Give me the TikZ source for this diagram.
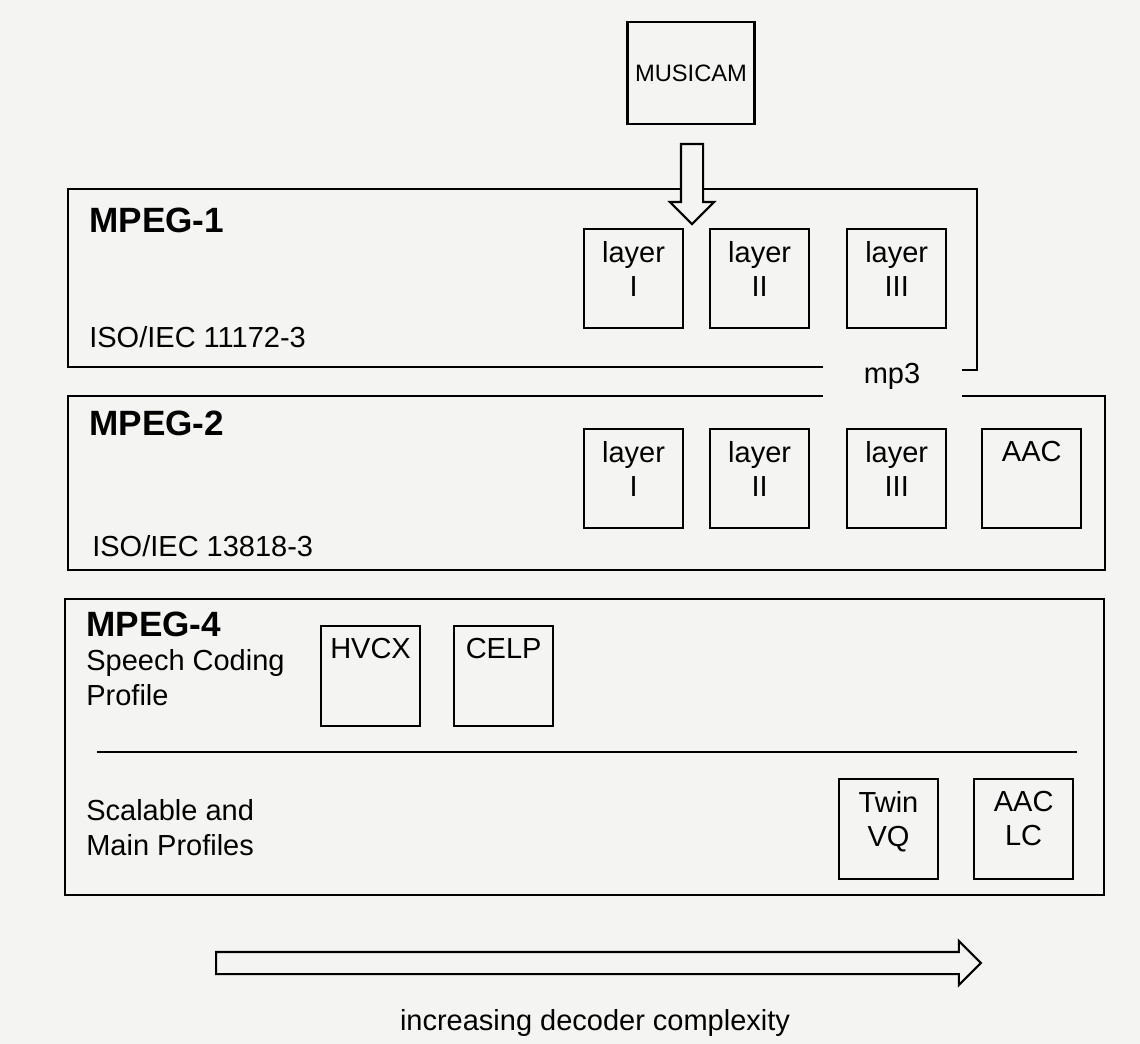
\documentclass[tikz,border=0pt]{standalone}
\usepackage{fontspec}
\setmainfont{Liberation Sans}
\usetikzlibrary{positioning,shapes.arrows}
\definecolor{paper}{HTML}{F4F4F2}
\newcommand\regsize{\fontsize{16.5}{19.5}\selectfont}
\newcommand\headsize{\fontsize{20}{24}\selectfont\bfseries}

\begin{document}
\begin{tikzpicture}[
  x=0.02cm, y=-0.02cm,
  frame/.style={line width=1.3pt},
  cellcap/.style={anchor=north, align=center, inner sep=0pt, yshift=-0.26cm, font=\regsize},
  cell/.style={draw, line width=1.2pt, minimum width=1.98cm, minimum height=1.98cm,
    inner sep=0pt, label={[cellcap]north:#1}},
  origin/.style={draw, line width=1.2pt, minimum width=2.54cm, minimum height=2.04cm,
    font=\fontsize{13.5}{16}\selectfont},
  tag/.style={anchor=base west, inner sep=0pt, align=left, font=\regsize},
  head/.style={tag, font=\headsize},
  hollow/.style={single arrow, draw, line width=1.2pt, fill=paper, inner xsep=0pt,
    inner ysep=0.2cm, single arrow head extend=0.22cm, single arrow tip angle=90}
]
\path[fill=paper, use as bounding box] (0,0) rectangle (1140,1044);

\draw[frame] (823,367) -- (68,367) -- (68,189) -- (977,189) -- (977,370) -- (962,370);
\draw[frame] (823,396) -- (68,396) -- (68,570) -- (1105,570) -- (1105,396) -- (962,396);
\draw[frame] (65,599) rectangle (1104,895);
\draw[frame] (97,752) -- (1077,752);

\node[origin] (musicam) at (691,73) {MUSICAM};
\node[hollow, rotate=-90, minimum height=1.6cm, anchor=tail] (feed) at (692,143) {};

\node[head] (mpeg1) at (89,233) {MPEG-1};
\node[tag] (iso1) at (89,348) {ISO/IEC 11172-3};
\node[cell={layer\\I}, anchor=north west] (m1a) at (583,228) {};
\node[cell={layer\\II}, right=0.5cm of m1a] (m1b) {};
\node[cell={layer\\III}, right=0.72cm of m1b] (m1c) {};

\node[font=\regsize, inner sep=0pt] (mp3) at (892,376) {mp3};

\node[head] (mpeg2) at (89,436) {MPEG-2};
\node[tag] (iso2) at (92,556) {ISO/IEC 13818-3};
\node[cell={layer\\I}, anchor=north west] (m2a) at (583,428) {};
\node[cell={layer\\II}, right=0.5cm of m2a] (m2b) {};
\node[cell={layer\\III}, right=0.72cm of m2b] (m2c) {};
\node[cell={AAC}, right=0.68cm of m2c] (m2d) {};

\node[head] (mpeg4) at (86,636) {MPEG-4};
\node[tag] (speech) at (86,705) {Speech Coding\\Profile};
\node[cell={HVCX}, minimum height=2cm, anchor=north west] (hvcx) at (320,625) {};
\node[cell={CELP}, minimum height=2cm, right=0.64cm of hvcx] (celp) {};
\node[tag] (scalable) at (86,855) {Scalable and\\Main Profiles};
\node[cell={Twin\\VQ}, minimum height=2cm, anchor=north west] (twin) at (838,778) {};
\node[cell={AAC\\LC}, minimum height=2cm, right=0.68cm of twin] (aaclc) {};

\node[hollow, minimum height=15.3cm, anchor=tail] (trend) at (215,963) {};
\node[tag, anchor=base] (caption) at (595,1030) {increasing decoder complexity};
\end{tikzpicture}
\end{document}
